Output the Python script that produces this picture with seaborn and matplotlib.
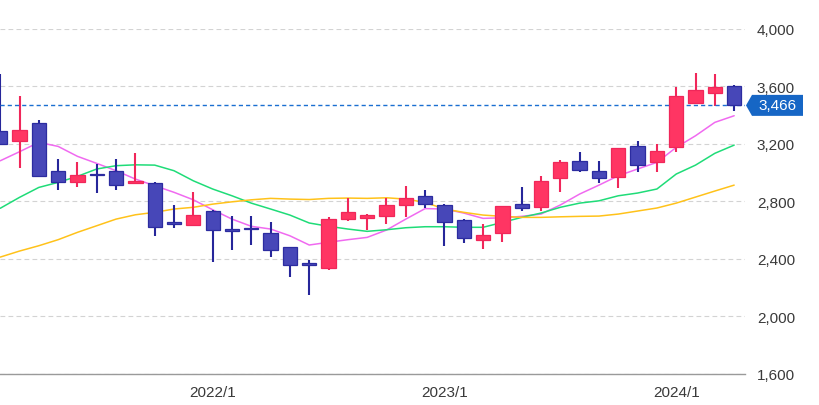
import numpy as np
import pandas as pd
import matplotlib
matplotlib.use('Agg')
import matplotlib.pyplot as plt
import matplotlib.transforms as mtransforms
from matplotlib.patches import Polygon
import seaborn as sns

months = ['2021/2', '2021/3', '2021/4', '2021/5', '2021/6', '2021/7', '2021/8', '2021/9',
          '2021/10', '2021/11', '2021/12', '2022/1', '2022/2', '2022/3', '2022/4', '2022/5',
          '2022/6', '2022/7', '2022/8', '2022/9', '2022/10', '2022/11', '2022/12', '2023/1',
          '2023/2', '2023/3', '2023/4', '2023/5', '2023/6', '2023/7', '2023/8', '2023/9',
          '2023/10', '2023/11', '2023/12', '2024/1', '2024/2', '2024/3', '2024/4']

opens = [3285, 3220, 3343, 3012, 2935, 2992, 3007, 2930, 2924, 2655, 2637, 2734, 2608,
         2615, 2581, 2480, 2370, 2338, 2676, 2685, 2699, 2776, 2838, 2774, 2669, 2533,
         2579, 2781, 2762, 2959, 3077, 3012, 2966, 3181, 3070, 3174, 3482, 3549, 3602]
highs = [3683, 3528, 3364, 3093, 3070, 3058, 3093, 3132, 2931, 2774, 2862, 2740, 2695,
         2695, 2653, 2482, 2394, 2692, 2820, 2711, 2820, 2903, 2880, 2780, 2676, 2642,
         2770, 2896, 2973, 3088, 3139, 3081, 3170, 3220, 3197, 3591, 3690, 3683, 3605]
lows = [3190, 3030, 2975, 2878, 2896, 2855, 2880, 2919, 2560, 2612, 2625, 2380, 2463,
        2496, 2410, 2271, 2149, 2322, 2665, 2602, 2642, 2688, 2751, 2487, 2510, 2468,
        2515, 2734, 2734, 2862, 3005, 2926, 2889, 3005, 3005, 3144, 3478, 3463, 3424]
closes = [3197, 3296, 2977, 2931, 2984, 2980, 2912, 2942, 2619, 2643, 2706, 2602, 2596,
          2605, 2463, 2357, 2355, 2676, 2723, 2704, 2774, 2822, 2781, 2658, 2542, 2565,
          2764, 2755, 2942, 3074, 3017, 2961, 3167, 3053, 3151, 3533, 3574, 3591, 3466]

ma_short = [3081, 3144, 3209, 3181, 3112, 3063, 3012, 2954, 2908, 2862, 2810, 2741, 2676,
            2626, 2607, 2560, 2496, 2515, 2533, 2549, 2600, 2676, 2749, 2746, 2718, 2681,
            2685, 2695, 2711, 2774, 2850, 2912, 2977, 3024, 3070, 3174, 3255, 3348, 3394]
ma_mid = [2751, 2827, 2896, 2931, 2973, 3024, 3047, 3053, 3051, 3012, 2942, 2885, 2838,
          2787, 2746, 2704, 2649, 2626, 2607, 2591, 2602, 2616, 2623, 2623, 2619, 2619,
          2653, 2688, 2718, 2758, 2787, 2803, 2838, 2857, 2885, 2989, 3051, 3133, 3190]
ma_long = [2412, 2454, 2491, 2533, 2584, 2630, 2676, 2706, 2723, 2746, 2758, 2780, 2796,
           2810, 2820, 2815, 2812, 2820, 2822, 2820, 2824, 2815, 2792, 2746, 2723, 2704,
           2695, 2688, 2688, 2692, 2695, 2697, 2711, 2732, 2753, 2787, 2829, 2871, 2912]

y_ticks = [1600, 2000, 2400, 2800, 3200, 3600, 4000]
x_tick_labels = ['2022/1', '2023/1', '2024/1']
last_price = 3466

sns.set_theme(style='white')
plt.rcParams['font.family'] = ['Liberation Sans', 'DejaVu Sans']

W, H = 820, 406
fig = plt.figure(figsize=(W / 100, H / 100), dpi=100)
ax = fig.add_axes([0, 31 / H, 745 / W, (H - 31 - 29.5) / H])

idx = np.arange(len(months))
df_ma = pd.DataFrame({'idx': idx, 'short': ma_short, 'mid': ma_mid, 'long': ma_long})
df_long = df_ma.melt(id_vars='idx', var_name='ma', value_name='value')
sns.lineplot(data=df_long, x='idx', y='value', hue='ma',
             palette={'short': '#f06af0', 'mid': '#1fdc78', 'long': '#ffc21a'},
             legend=False, linewidth=1.1, ax=ax, zorder=2)

o = np.array(opens, float)
c = np.array(closes, float)
up = c >= o
fill = np.where(up, '#ff3563', '#4747b8')
edge = np.where(up, '#f0275a', '#2c2ca0')
wick = np.where(up, '#f0275a', '#26269a')

ax.vlines(idx, lows, highs, colors=wick, linewidth=1.5, zorder=3)
ax.bar(idx, np.maximum(np.abs(c - o), 8), bottom=np.minimum(o, c), width=0.74,
       color=fill, edgecolor=edge, linewidth=0.9, zorder=4)

ax.axhline(last_price, color='#1a6fd1', linestyle=(0, (3, 2.2)), linewidth=1.0, zorder=3.5)

ax.set_xlim(-0.01, 745 / 19.32)
ax.set_ylim(y_ticks[0], y_ticks[-1])
ax.set_yticks(y_ticks)
ax.set_yticklabels([f'{v:,}' for v in y_ticks])
ax.yaxis.tick_right()
ax.set_xticks([months.index(m) for m in x_tick_labels])
ax.set_xticklabels(x_tick_labels)
ax.tick_params(axis='y', length=0, pad=8.5, labelsize=11, labelcolor='#3a3a3a')
ax.tick_params(axis='x', length=0, pad=8, labelsize=11, labelcolor='#3a3a3a')
ax.set_xlabel('')
ax.set_ylabel('')
ax.yaxis.grid(True, linestyle=(0, (4.3, 2.9)), color='#d3d3d3', linewidth=0.8)
ax.xaxis.grid(False)
for s in ['left', 'top', 'right']:
    ax.spines[s].set_visible(False)
ax.spines['bottom'].set_color('#9a9a9a')
ax.spines['bottom'].set_linewidth(1.0)
ax.spines['bottom'].set_zorder(5)

# price label
trans = mtransforms.blended_transform_factory(fig.transFigure, ax.transData)
hh = 10.5 * (y_ticks[-1] - y_ticks[0]) / (H - 31 - 29.5)
pts = [(746 / W, last_price), (752 / W, last_price + hh), (803 / W, last_price + hh),
       (803 / W, last_price - hh), (752 / W, last_price - hh)]
ax.add_patch(Polygon(pts, closed=True, transform=trans, facecolor='#1666c5',
                     edgecolor='none', clip_on=False, zorder=6))
ax.text(777.5 / W, last_price, f'{last_price:,}', transform=trans, ha='center', va='center',
        color='white', fontsize=11, zorder=7, clip_on=False)

fig.savefig('out.png', dpi=100)
